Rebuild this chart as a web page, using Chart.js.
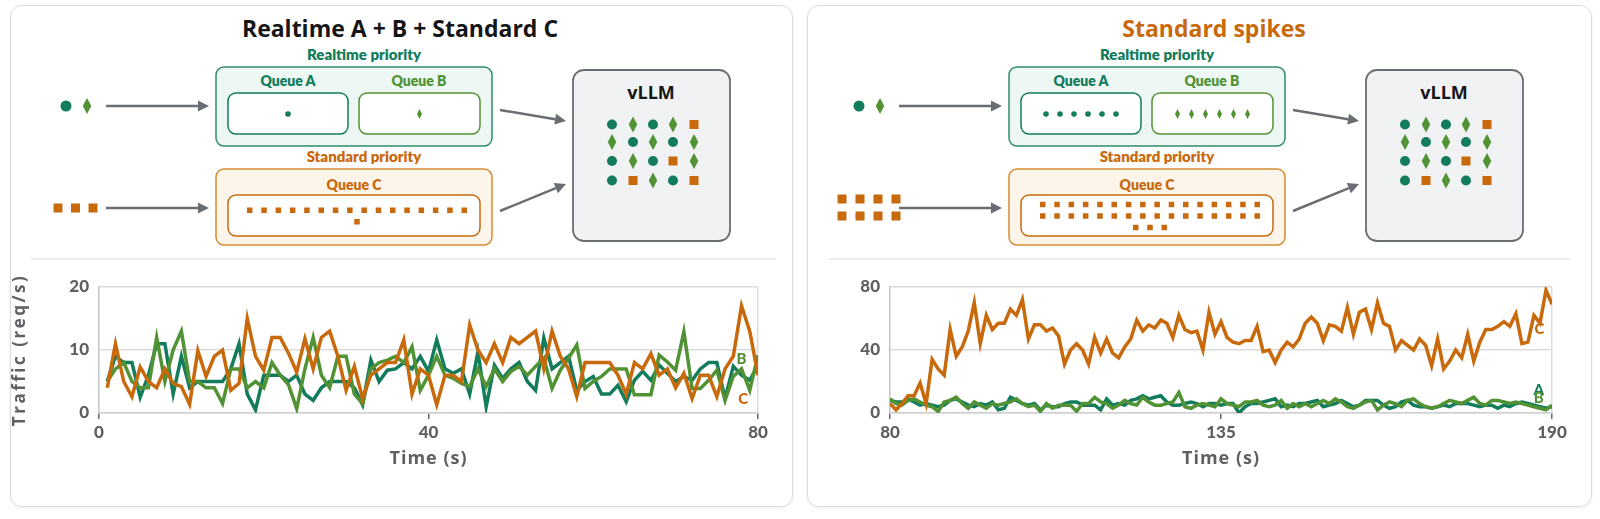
<!DOCTYPE html>
<html>
<head>
<meta charset="utf-8">
<script src="https://cdn.jsdelivr.net/npm/chart.js@4.4.1/dist/chart.umd.min.js"></script>
<style>
body { margin: 0; width: 1600px; height: 519px; background: #fff; position: relative; overflow: hidden; font-family: Lato, sans-serif; }
.card { position: absolute; top: 5px; height: 502px; border: 1.5px solid #dcdcdc; border-radius: 12px; box-sizing: border-box; box-shadow: 0 1px 3px rgba(0,0,0,0.08); }
#card1 { left: 10px; width: 783px; }
#card2 { left: 807px; width: 785px; }
canvas { position: absolute; }
#diagram { position: absolute; left: 0; top: 0; }
</style>
</head>
<body>
<div class="card" id="card1"></div>
<div class="card" id="card2"></div>
<svg id="diagram" width="1600" height="519"></svg>
<canvas id="leftChart" width="783" height="243" style="left:10px;top:262px"></canvas>
<canvas id="rightChart" width="785" height="243" style="left:807px;top:262px"></canvas>
<script>
// ---- data: left panel (Realtime A + B + Standard C) ----
const timeLeft = [1,2,3,4,5,6,7,8,9,10,11,12,13,14,15,16,17,18,19,20,
  21,22,23,24,25,26,27,28,29,30,31,32,33,34,35,36,37,38,39,40,
  41,42,43,44,45,46,47,48,49,50,51,52,53,54,55,56,57,58,59,60,
  61,62,63,64,65,66,67,68,69,70,71,72,73,74,75,76,77,78,79,80];
const leftA = [5,9,8,8,2.5,6,11,11,3,9, 4,5,5,5,5,7,11,3,0.5,6,
  6,6,5,6,3,2,4,5,5,5, 4,1.3,8.4,5,6.8,7,8,7,9,6.6,
  11.6,7,6.3,7,3,9.7,1,7.6,5.5,7, 8,5,3.6,11.9,7,8,9,3.6,5,5.8,
  3,3,4.4,1.8,5.2,6.6,5.2,7.6,6.3,5, 5.8,5.2,7,8,8,2.3,7.4,6,5.2,7.6];
const leftB = [5,7,8,5,4,4,12,5,10,13, 5,5,4,4,1.5,7,7,4,5,4,
  8,6,4.5,0.7,7,12,6,4,9,9, 3,1.5,7,8,8.4,9,8,10.5,3.6,6,
  9,6,5.5,4.7,4.2,7,4.2,7,5,6.6, 7.4,6,7.4,8.7,3.9,6.8,8.7,10.8,3.9,5,
  5.8,7,7,7,2.9,2.9,2.9,9.2,8.1,6.8, 12.9,3.9,3.9,5.2,6.8,2,5.8,7,3.6,9.2];
const leftC = [4,11,5,2.6,7.3,5,4,7,4.7,4.2, 1.4,9.9,5.8,9,10,3.6,4.7,15,9,6.8,
  12,12,9.5,6.5,11.8,7,12,13,9,3.6, 7.4,2.3,6,7,8,8,11.6,3,7,6,
  1.3,6,6,5,14,10,8,11,8,12, 11,12,13,7,13,9,7,2.6,8,8,
  8,8,6,3,8,7,9.4,6,7,4, 6.3,2.3,6,6,2.6,7,9,17,13,6];
const leftXTicks = [0, 40, 80];
const leftYTicks = [0, 10, 20];

// ---- data: right panel (Standard spikes) ----
const timeRight = [80,81,82,83,84,85,86,87,88,89,90,91,92,93,94,95,96,97,98,99,
  100,101,102,103,104,105,106,107,108,109,110,111,112,113,114,115,116,117,118,119,
  120,121,122,123,124,125,126,127,128,129,130,131,132,133,134,135,136,137,138,139,
  140,141,142,143,144,145,146,147,148,149,150,151,152,153,154,155,156,157,158,159,
  160,161,162,163,164,165,166,167,168,169,170,171,172,173,174,175,176,177,178,179,
  180,181,182,183,184,185,186,187,188,189,190];
const rightA = [8,7,7,9,7,5,6,5,4,5, 8,9,7,5,4,6,5,7,2,3,
  10,8,6,5,6,2,5,4,4,6, 7,7,5,5,5,2,9,5,6,5,
  8,9,11,9,10,11,7,5,5,6, 7,6,4,6,6,5,6,6,0,4,
  6,6,7,8,9,4,5,4,6,6, 7,8,4,5,6,8,6,4,5,8,
  8,8,5,3,4,7,8,5,4,4, 3,4,5,4,6,6,6,5,4,5,
  5,3,5,4,6,7,6,5,4,3, 4];
const rightB = [9,6,5,8,9,7,5,4,1,7, 8,10,6,3,7,5,3,6,5,6,
  7,9,6,4,5,1,6,3,5,5, 5,1,6,6,10,7,6,3,5,8,
  6,5,10,7,5,5,6,7,13,4, 3,5,6,5,4,9,6,5,4,7,
  7,8,5,4,5,8,3,6,4,6, 4,6,8,6,9,7,4,3,5,7,
  8,2,5,7,6,4,8,9,6,4, 3,4,6,8,7,6,8,10,6,5,
  8,8,7,6,7,6,5,4,3,2, 5];
const rightC = [6,2,6,11,11,19,6,34,28,24, 53,36,42,52,70,44,62,53,57,57,
  66,62,72,47,56,56,52,54,49,31, 40,44,40,31,48,38,47,38,35,42,
  47,59,52,56,54,59,57,48,62,53, 51,52,40,64,50,58,48,45,44,46,
  46,55,39,40,32,40,45,42,47,57, 61,57,46,56,55,52,67,50,64,66,
  53,70,57,55,40,46,43,40,47,43, 30,47,28,33,40,35,50,33,45,53,
  53,55,58,55,63,44,45,62,57,78, 69];
const rightXTicks = [80, 135, 190];
const rightYTicks = [0, 40, 80];

// ---- diagram token counts ----
const queueATokens = [1, 6];
const queueBTokens = [1, 6];
const queueCTokens = [17, 35];
const inputCTokens = [3, 8];
const vllmGrid = [
  ['c','d','c','d','s'],
  ['d','c','d','c','d'],
  ['c','d','c','s','d'],
  ['c','s','d','c','s']
];

const colA = '#127c5c';
const colB = '#519334';
const colC = '#c8690c';
const axisText = '#5e6064';

// ---- diagram (svg) ----
const svg = document.getElementById('diagram');
const NS = 'http://www.w3.org/2000/svg';
function el(tag, attrs, text) {
  const e = document.createElementNS(NS, tag);
  for (const k in attrs) e.setAttribute(k, attrs[k]);
  if (text) e.textContent = text;
  svg.appendChild(e);
  return e;
}
function circle(x, y, r, c) { el('circle', {cx: x, cy: y, r: r, fill: c}); }
function diamond(x, y, w, h, c) {
  el('polygon', {points: `${x},${y-h/2} ${x+w/2},${y} ${x},${y+h/2} ${x-w/2},${y}`, fill: c});
}
function square(x, y, s, c) { el('rect', {x: x - s/2, y: y - s/2, width: s, height: s, fill: c}); }
function label(x, y, t, c, size, family, weight) {
  el('text', {x: x, y: y, fill: c, 'font-size': size, 'font-weight': weight || 800,
    'font-family': family || 'Lato, sans-serif',
    'text-anchor': 'middle', 'dominant-baseline': 'central'}, t);
}
function arrow(x1, y1, x2, y2) {
  const ang = Math.atan2(y2 - y1, x2 - x1);
  const L = 11, W = 5.5;
  const bx = x2 - L * Math.cos(ang), by = y2 - L * Math.sin(ang);
  el('line', {x1: x1, y1: y1, x2: bx, y2: by, stroke: '#6a6e73', 'stroke-width': 2.5});
  const px = -Math.sin(ang) * W, py = Math.cos(ang) * W;
  el('polygon', {points: `${x2},${y2} ${bx+px},${by+py} ${bx-px},${by-py}`, fill: '#6a6e73'});
}

function panel(i, dx, title, titleColor, titleX) {
  label(titleX, 28, title, titleColor, 23, '"Open Sans", sans-serif', 700);
  label(364 + dx, 54, 'Realtime priority', colA, 15);
  el('rect', {x: 216 + dx, y: 67, width: 276, height: 79, rx: 8, fill: '#edf7f3', stroke: '#2f8c6b', 'stroke-width': 1.5});
  label(288 + dx, 80, 'Queue A', colA, 14);
  label(419 + dx, 80, 'Queue B', colB, 14);
  el('rect', {x: 228 + dx, y: 93, width: 120, height: 41, rx: 8, fill: '#fff', stroke: colA, 'stroke-width': 1.5});
  el('rect', {x: 359 + dx, y: 93, width: 121, height: 41, rx: 8, fill: '#fff', stroke: colB, 'stroke-width': 1.5});
  label(364 + dx, 156, 'Standard priority', colC, 15);
  el('rect', {x: 216 + dx, y: 169, width: 276, height: 76, rx: 8, fill: '#fef5ea', stroke: '#d68c30', 'stroke-width': 1.5});
  label(354 + dx, 184, 'Queue C', colC, 14);
  el('rect', {x: 228 + dx, y: 195, width: 252, height: 41, rx: 8, fill: '#fff', stroke: colC, 'stroke-width': 1.5});
  el('rect', {x: 573 + dx, y: 70, width: 157, height: 171, rx: 11, fill: '#f1f2f3', stroke: '#6a6e73', 'stroke-width': 1.8});
  label(651 + dx, 92, 'vLLM', '#151515', 18, '"Open Sans", sans-serif', 700);

  // queue contents
  const nA = queueATokens[i];
  for (let k = 0; k < nA; k++) circle(288 + dx + (k - (nA - 1) / 2) * 14, 114, 2.8, colA);
  const nB = queueBTokens[i];
  for (let k = 0; k < nB; k++) diamond(419.5 + dx + (k - (nB - 1) / 2) * 14, 114, 5, 10, colB);
  const nC = queueCTokens[i];
  const rows = Math.ceil(nC / 16);
  for (let k = 0; k < nC; k++) {
    const r = Math.floor(k / 16);
    const inRow = Math.min(16, nC - r * 16);
    const col = k - r * 16;
    const cx = 357 + dx + (col - (inRow - 1) / 2) * 14.3;
    const cy = 216 + (r - (rows - 1) / 2) * 11.5;
    square(cx, cy, 5.5, colC);
  }

  // inputs
  circle(66 + dx, 106, 5.5, colA);
  diamond(87 + dx, 106, 8.5, 16, colB);
  const nIn = inputCTokens[i];
  if (nIn <= 4) {
    for (let k = 0; k < nIn; k++) square(58 + dx + k * 17.5, 208, 9, colC);
  } else {
    for (let k = 0; k < nIn; k++) square(49 + dx + (k % 4) * 18, 199 + Math.floor(k / 4) * 17, 9, colC);
  }
  arrow(106 + dx, 106, 209 + dx, 106);
  arrow(106 + dx, 208, 209 + dx, 208);
  arrow(500 + dx, 110, 566 + dx, 121);
  arrow(500 + dx, 211, 566 + dx, 184);

  // vllm tokens
  const gx = [612, 633, 653, 673, 694], gy = [124.5, 142, 161, 180.5];
  vllmGrid.forEach((row, r) => row.forEach((s, c) => {
    const x = gx[c] + dx, y = gy[r];
    if (s === 'c') circle(x, y, 5, colA);
    else if (s === 'd') diamond(x, y, 8.5, 16, colB);
    else square(x, y, 9, colC);
  }));
}
panel(0, 0, 'Realtime A + B + Standard C', '#151515', 400);
panel(1, 793, 'Standard spikes', colC, 1214);
el('line', {x1: 31, y1: 259, x2: 776, y2: 259, stroke: '#e4e4e4', 'stroke-width': 1.5});
el('line', {x1: 829, y1: 259, x2: 1570, y2: 259, stroke: '#e4e4e4', 'stroke-width': 1.5});

// ---- charts ----
const endLabels = {
  id: 'endLabels',
  afterDatasetsDraw(chart, args, opts) {
    const {ctx, scales: {x, y}} = chart;
    ctx.save();
    ctx.font = '900 15px Lato';
    ctx.textAlign = 'center';
    ctx.textBaseline = 'middle';
    opts.items.forEach(it => {
      ctx.fillStyle = it.color;
      ctx.fillText(it.text, x.getPixelForValue(it.x), y.getPixelForValue(it.y));
    });
    ctx.restore();
  }
};

// spaced-out axis titles
function spacedTitle(s, spacing) {
  if (s._spaced) return;
  s._spaced = true;
  const orig = s.drawTitle;
  s.drawTitle = function () {
    this.ctx.save();
    this.ctx.letterSpacing = spacing;
    orig.call(this);
    this.ctx.restore();
  };
}

function makeChart(id, times, a, b, c, xTicks, yTicks, yTitle, yWidth, padRight, labels) {
  const pts = arr => arr.map((v, k) => ({x: times[k], y: v}));
  const xMax = xTicks[xTicks.length - 1];
  return new Chart(document.getElementById(id), {
    type: 'line',
    data: {
      datasets: [
        {label: 'A', data: pts(a), borderColor: colA, order: 3},
        {label: 'B', data: pts(b), borderColor: colB, order: 2},
        {label: 'C', data: pts(c), borderColor: colC, order: 1}
      ]
    },
    options: {
      responsive: false,
      animation: false,
      layout: {padding: {top: 25, right: padRight, left: 0, bottom: 0}},
      elements: {line: {borderWidth: 3.5, tension: 0}, point: {radius: 0}},
      plugins: {legend: {display: false}, tooltip: {enabled: false}, endLabels: {items: labels}},
      scales: {
        x: {
          type: 'linear', min: xTicks[0], max: xMax,
          afterBuildTicks: s => { s.ticks = xTicks.map(v => ({value: v})); },
          afterFit: s => { s.height = 92; spacedTitle(s, '1px'); },
          ticks: {color: axisText, font: {family: 'Lato', size: 17, weight: '900'}, padding: 3},
          grid: {color: ctx => (ctx.tick && ctx.tick.value === xMax) ? '#dcdcdc' : 'rgba(0,0,0,0)',
                 tickColor: '#666', tickLength: 6, lineWidth: 1.5},
          border: {color: '#d0d0d0', width: 1.5},
          title: {display: true, text: 'Time (s)', color: axisText,
                  font: {family: 'Open Sans', size: 18, weight: 'bold'}, padding: {top: 0, bottom: 35}}
        },
        y: {
          min: yTicks[0], max: yTicks[yTicks.length - 1],
          afterBuildTicks: s => { s.ticks = yTicks.map(v => ({value: v})); },
          afterFit: s => { s.width = yWidth; spacedTitle(s, '2.5px'); },
          ticks: {color: axisText, font: {family: 'Lato', size: 17, weight: '900'}, padding: 10},
          grid: {color: '#dcdcdc', lineWidth: 1.5, drawTicks: false},
          border: {color: '#c4c4c4', width: 1.5},
          title: {display: !!yTitle, text: yTitle, color: axisText,
                  font: {family: 'Open Sans', size: 17, weight: 'bold'}, padding: 0}
        }
      }
    },
    plugins: [endLabels]
  });
}

makeChart('leftChart', timeLeft, leftA, leftB, leftC, leftXTicks, leftYTicks,
  'Traffic (req/s)', 89, 35,
  [{text: 'B', x: 78, y: 8.6, color: colB}, {text: 'C', x: 78.2, y: 2.2, color: colC}]);
makeChart('rightChart', timeRight, rightA, rightB, rightC, rightXTicks, rightYTicks,
  '', 83, 40,
  [{text: 'A', x: 187.8, y: 14.5, color: colA}, {text: 'B', x: 187.8, y: 9.5, color: colB},
   {text: 'C', x: 187.9, y: 53, color: colC}]);
</script>
</body>
</html>
